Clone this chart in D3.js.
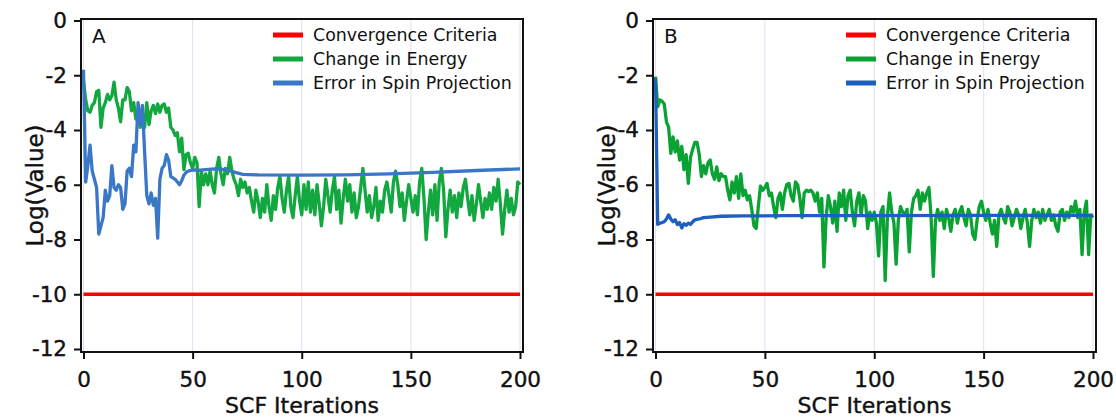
<!DOCTYPE html>
<html>
<head>
<meta charset="utf-8">
<script src="https://cdn.jsdelivr.net/npm/d3@7"></script>
<style>
  body { margin: 0; background: #fff; }
  svg { display: block; font-family: "DejaVu Sans", Verdana, sans-serif; }
</style>
</head>
<body>
<script>
// ---- data ----
const xTicks = [0, 50, 100, 150, 200];
const yTicks = [0, -2, -4, -6, -8, -10, -12];
const seriesNames = ["Convergence Criteria", "Change in Energy", "Error in Spin Projection"];
const criteria = [[0, -10], [200, -10]];

// panel A, change in energy, one value per SCF iteration (0..200)
const energyA = [
  -2.2, -2.9, -3.3, -3.35, -3.1, -3.0, -2.6, -2.55, -3.9, -3.2,
  -3.0, -2.7, -2.9, -2.75, -2.25, -2.9, -3.2, -3.7, -2.9, -2.9,
  -2.45, -2.6, -3.3, -3.0, -3.6, -3.5, -3.9, -3.4, -3.9, -3.0,
  -3.8, -3.3, -3.1, -3.4, -3.05, -3.35, -3.1, -3.05, -3.35, -3.2,
  -3.9, -4.0, -4.2, -4.1, -4.8, -4.3, -5.45, -4.9, -4.85, -5.2,
  -5.4, -5.0, -5.2, -6.8, -5.5, -6.0, -5.6, -6.0, -5.5, -6.0,
  -6.3, -5.4, -5.0, -5.6, -6.0, -5.4, -5.6, -5.0, -5.5, -5.8,
  -6.0, -6.4, -5.8, -6.1, -5.9, -6.3, -6.1, -6.6, -7.0, -6.2,
  -6.6, -7.2, -6.5, -7.0, -6.0, -6.8, -7.3, -6.4, -6.9, -6.1,
  -5.7, -6.5, -7.0, -6.2, -5.7, -6.8, -7.2, -6.4, -5.7, -6.6,
  -7.1, -6.0, -6.9, -5.9, -7.0, -6.2, -7.1, -6.0, -6.7, -7.5,
  -6.8, -5.8, -6.4, -7.0, -6.2, -5.7, -6.9, -6.2, -7.4, -6.5,
  -5.8, -6.6, -6.0, -7.0, -6.3, -7.2, -6.8, -6.1, -5.4, -6.2,
  -7.0, -6.4, -7.2, -6.8, -6.1, -7.3, -6.6, -7.0, -6.2, -5.9,
  -6.4, -7.0, -5.9, -5.5, -6.0, -6.8, -6.3, -7.3, -6.6, -6.0,
  -6.5, -7.0, -6.4, -7.1, -5.9, -5.4, -6.5, -8.0, -7.0, -6.2,
  -7.1, -6.0, -7.3, -5.9, -5.4, -6.2, -7.9, -6.9, -6.2, -7.0,
  -6.4, -7.2, -6.3, -6.8, -6.1, -5.8, -6.5, -7.1, -6.4, -7.3,
  -6.7, -6.0, -6.6, -7.2, -6.5, -6.9, -6.3, -6.9, -6.1, -6.6,
  -5.8, -6.7, -7.8, -6.9, -6.2, -7.0, -6.5, -7.1, -6.8, -5.9,
  -6.0
];

// panel A, error in spin projection, [iteration, value]
const spinA = [
  [0, -1.8], [1, -5.9], [2, -5.3], [3, -4.55], [4, -5.5], [5, -5.8], [6, -6.1],
  [7, -7.8], [8, -7.5], [9, -7.2], [10, -6.2], [11, -6.6], [12, -6.4], [13, -5.3],
  [14, -6.1], [15, -6.2], [16, -6.0], [17, -6.1], [18, -6.9], [19, -6.7], [20, -5.5],
  [21, -5.4], [22, -5.7], [23, -4.55], [24, -4.8], [25, -3.0], [26, -3.8], [27, -3.1],
  [28, -4.8], [29, -6.4], [30, -6.7], [31, -6.3], [32, -6.75], [33, -6.5], [34, -7.95],
  [35, -5.8], [36, -5.4], [37, -5.3], [38, -4.9], [39, -5.1], [40, -5.7], [41, -5.75],
  [42, -5.8], [43, -5.9], [44, -6.0], [45, -5.85], [46, -5.65], [47, -5.55], [48, -5.5],
  [50, -5.46], [53, -5.47], [56, -5.45], [60, -5.42], [63, -5.43], [66, -5.47],
  [70, -5.56], [73, -5.62], [80, -5.64], [100, -5.65], [120, -5.64], [140, -5.6],
  [160, -5.55], [180, -5.48], [200, -5.42]
];

// panel B, change in energy, one value per SCF iteration (0..200)
const energyB = [
  -2.05, -3.15, -2.9, -2.95, -3.05, -3.7, -3.9, -4.85, -4.25, -4.8,
  -4.4, -5.1, -4.6, -5.45, -4.9, -5.95, -5.0, -4.7, -4.45, -4.45,
  -4.9, -5.7, -5.3, -5.6, -5.2, -5.1, -5.6, -5.8, -5.35, -5.85,
  -5.6, -5.7, -5.7, -6.2, -6.55, -5.9, -6.3, -5.7, -6.5, -5.6,
  -6.4, -6.2, -6.55, -6.4, -6.9, -7.5, -7.6, -6.8, -6.05, -6.2,
  -6.1, -5.95, -6.4, -6.3, -6.8, -7.2, -6.5, -6.3, -6.9, -6.3,
  -6.0, -5.95, -6.4, -6.6, -5.9, -6.0, -6.5, -7.2, -6.3, -6.2,
  -6.25, -6.2, -6.3, -6.6, -6.3, -7.0, -6.5, -9.0, -7.2, -6.4,
  -6.8, -7.4, -6.6, -7.7, -6.3, -6.8, -6.2, -7.3, -6.4, -6.2,
  -7.0, -7.5, -6.6, -6.3, -7.1, -6.4, -6.6, -7.6, -7.0, -7.3,
  -7.0, -7.4, -8.6, -7.0, -6.8, -9.5, -7.2, -6.3, -7.0, -7.4,
  -8.9, -7.3, -6.8, -7.0, -7.1, -6.9, -8.45, -7.0, -6.5, -6.4,
  -6.2, -6.9, -6.3, -6.6, -6.3, -6.1, -7.2, -9.35, -7.3, -6.9,
  -7.3, -7.0, -7.6, -6.9, -7.2, -7.7, -7.1, -6.9, -7.4, -7.0,
  -6.8, -7.2, -7.5, -6.9, -7.1, -7.8, -8.0, -7.3, -6.8, -6.6,
  -7.0, -7.3, -6.9, -7.4, -7.8, -7.3, -8.25, -7.1, -6.9, -7.2,
  -7.4, -6.8, -7.0, -7.5, -7.2, -6.9, -7.1, -7.6, -7.2, -6.9,
  -7.4, -8.25, -7.3, -6.9, -7.2, -7.0, -7.4, -6.9, -7.3, -7.1,
  -6.9, -7.3, -7.1, -7.5, -7.7, -7.0, -6.9, -7.3, -7.0, -7.2,
  -6.8, -7.0, -6.6, -7.2, -6.9, -8.55, -7.0, -6.6, -8.55, -7.1,
  -7.2
];

// panel B, error in spin projection, [iteration, value]
const spinB = [
  [0, -2.1], [1, -7.45], [2, -7.4], [3, -7.38], [4, -7.35], [5, -7.25], [6, -7.1],
  [7, -7.25], [8, -7.35], [9, -7.28], [10, -7.45], [11, -7.38], [12, -7.58], [13, -7.42],
  [14, -7.48], [15, -7.4], [16, -7.45], [17, -7.35], [18, -7.28], [20, -7.25], [22, -7.2],
  [25, -7.18], [30, -7.15], [40, -7.14], [60, -7.13], [100, -7.13], [150, -7.12], [200, -7.12]
];

// ---- drawing ----
const W = 1116, H = 418;
const svg = d3.select("body").append("svg").attr("width", W).attr("height", H);

const panels = [
  { label: "A", left: 81, right: 523, energy: energyA, spin: spinA,
    colors: ["#ff0000", "#12a73f", "#3a77c6"] },
  { label: "B", left: 653, right: 1096, energy: energyB, spin: spinB,
    colors: ["#ff0000", "#0aa232", "#1c5fbd"] }
];

const plotTop = 19, plotBottom = 352;

panels.forEach(p => {
  const g = svg.append("g");
  const x = d3.scaleLinear().domain([0, 200]).range([p.left + 2.5, p.right - 3]);
  const y = d3.scaleLinear().domain([-12, 0]).range([349, 20.5]);

  // faint vertical grid
  g.append("g").selectAll("line").data(xTicks).join("line")
    .attr("x1", d => x(d)).attr("x2", d => x(d))
    .attr("y1", plotTop).attr("y2", plotBottom)
    .attr("stroke", "#dedef8").attr("stroke-width", 1);

  const line = d3.line().x(d => x(d[0])).y(d => y(d[1]));

  g.append("path").datum(criteria).attr("d", line)
    .attr("fill", "none").attr("stroke", p.colors[0]).attr("stroke-width", 3.5);
  g.append("path").datum(p.energy.map((v, i) => [i, v])).attr("d", line)
    .attr("fill", "none").attr("stroke", p.colors[1]).attr("stroke-width", 3.3)
    .attr("stroke-linejoin", "round");
  g.append("path").datum(p.spin).attr("d", line)
    .attr("fill", "none").attr("stroke", p.colors[2]).attr("stroke-width", 3.3)
    .attr("stroke-linejoin", "round");

  // frame
  g.append("rect")
    .attr("x", p.left).attr("y", plotTop)
    .attr("width", p.right - p.left).attr("height", plotBottom - plotTop)
    .attr("fill", "none").attr("stroke", "#111").attr("stroke-width", 2);

  // axes
  const yAxis = g.append("g").attr("transform", `translate(${p.left},0)`)
    .call(d3.axisLeft(y).tickValues(yTicks).tickFormat(d => String(d))
      .tickSize(7).tickPadding(7));
  const xAxis = g.append("g").attr("transform", `translate(0,${plotBottom})`)
    .call(d3.axisBottom(x).tickValues(xTicks).tickFormat(d => String(d))
      .tickSize(7).tickPadding(13));
  [yAxis, xAxis].forEach(a => {
    a.select(".domain").remove();
    a.selectAll(".tick line").attr("stroke", "#111").attr("stroke-width", 2);
    a.selectAll("text").attr("fill", "#111")
      .attr("stroke", "#111").attr("stroke-width", 0.4)
      .style("font-family", "'DejaVu Sans', Verdana, sans-serif")
      .style("font-size", "21.5px");
  });

  // titles
  g.append("text")
    .attr("x", (p.left + p.right) / 2).attr("y", 412.5)
    .attr("text-anchor", "middle").attr("font-size", 22).attr("fill", "#111")
    .attr("stroke", "#111").attr("stroke-width", 0.4)
    .text("SCF Iterations");
  g.append("text")
    .attr("transform", `translate(${p.left - 38},${(plotTop + plotBottom) / 2}) rotate(-90)`)
    .attr("text-anchor", "middle").attr("font-size", 23).attr("fill", "#111")
    .attr("stroke", "#111").attr("stroke-width", 0.4)
    .text("Log(Value)");

  // panel letter
  g.append("text")
    .attr("x", p.left + 11).attr("y", 43)
    .attr("font-size", 20).attr("fill", "#111")
    .text(p.label);

  // legend
  const leg = g.append("g").attr("transform", `translate(${p.right - 250},35)`);
  seriesNames.forEach((name, i) => {
    leg.append("line")
      .attr("x1", 0).attr("x2", 30).attr("y1", i * 24).attr("y2", i * 24)
      .attr("stroke", p.colors[i]).attr("stroke-width", 5);
    leg.append("text")
      .attr("x", 40).attr("y", i * 24).attr("dy", "0.35em")
      .attr("font-size", 17.4).attr("fill", "#111")
      .text(name);
  });
});
</script>
</body>
</html>
